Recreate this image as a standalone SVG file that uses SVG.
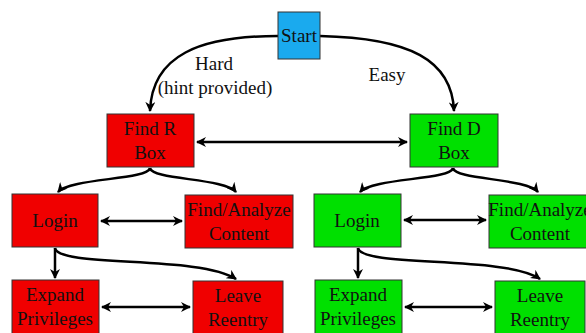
<svg xmlns="http://www.w3.org/2000/svg" width="586" height="333" viewBox="0 0 586 333">
<defs>
<marker id="ah" viewBox="0 0 10 10" refX="9" refY="5" markerWidth="4" markerHeight="4" orient="auto-start-reverse" markerUnits="strokeWidth">
<path d="M0,0 L10,5 L0,10 L3,5 z" fill="#000"/>
</marker>
<style>
.box{stroke:#333;stroke-width:1}
.r{fill:#f00000}
.g{fill:#00e000}
.b{fill:#1aaaee}
text{font-family:"Liberation Serif","Times New Roman",serif;font-size:19px;fill:#111;text-anchor:middle}
.c{fill:none;stroke:#000;stroke-width:2.5}
</style>
</defs>
<rect width="586" height="333" fill="#fff"/>
<g id="connectors">
<path class="c" d="M278,36 C200,36 152,55 150,111" marker-end="url(#ah)"/>
<path class="c" d="M320,36 C410,38 452,60 454,111" marker-end="url(#ah)"/>
<path class="c" d="M197,142 L407,142" marker-start="url(#ah)" marker-end="url(#ah)"/>
<path class="c" d="M150,168 C148,180 70,178 58,192" marker-end="url(#ah)"/>
<path class="c" d="M150,168 C152,180 225,178 236,192" marker-end="url(#ah)"/>
<path class="c" d="M101,221 L182,221" marker-start="url(#ah)" marker-end="url(#ah)"/>
<path class="c" d="M55,248 L55,278" marker-end="url(#ah)"/>
<path class="c" d="M55,248 C58,268 200,255 236,279" marker-end="url(#ah)"/>
<path class="c" d="M102,307 L190,307" marker-start="url(#ah)" marker-end="url(#ah)"/>
<path class="c" d="M453,168 C451,180 372,178 360,192" marker-end="url(#ah)"/>
<path class="c" d="M453,168 C455,180 527,178 538,192" marker-end="url(#ah)"/>
<path class="c" d="M404,220 L486,220" marker-start="url(#ah)" marker-end="url(#ah)"/>
<path class="c" d="M358,248 L358,278" marker-end="url(#ah)"/>
<path class="c" d="M358,248 C362,268 505,255 540,279" marker-end="url(#ah)"/>
<path class="c" d="M405,307 L492,307" marker-start="url(#ah)" marker-end="url(#ah)"/>
</g>
<g id="labels">
<text x="214" y="70">Hard</text>
<text x="215" y="94">(hint provided)</text>
<text x="387" y="81">Easy</text>
</g>
<g id="start"><rect class="box b" x="278" y="12" width="42" height="47"/><text x="299" y="42">Start</text></g>
<g id="findR"><rect class="box r" x="107" y="114" width="87" height="53"/><text x="150" y="135">Find R</text><text x="150" y="159">Box</text></g>
<g id="findD"><rect class="box g" x="410" y="114" width="88" height="53"/><text x="454" y="135">Find D</text><text x="454" y="159">Box</text></g>
<g id="loginR"><rect class="box r" x="12" y="194" width="86" height="53"/><text x="55" y="227">Login</text></g>
<g id="analyzeR"><rect class="box r" x="185" y="195" width="108" height="53"/><text x="239" y="216">Find/Analyze</text><text x="239" y="240">Content</text></g>
<g id="loginG"><rect class="box g" x="314" y="194" width="87" height="53"/><text x="357" y="227">Login</text></g>
<g id="analyzeG"><rect class="box g" x="489" y="195" width="108" height="53"/><text x="540" y="216">Find/Analyze</text><text x="540" y="240">Content</text></g>
<g id="expandR"><rect class="box r" x="12" y="280" width="87" height="60"/><text x="55" y="301">Expand</text><text x="55" y="325">Privileges</text></g>
<g id="leaveR"><rect class="box r" x="193" y="281" width="90" height="60"/><text x="238" y="302">Leave</text><text x="238" y="326">Reentry</text></g>
<g id="expandG"><rect class="box g" x="315" y="280" width="87" height="60"/><text x="358" y="301">Expand</text><text x="358" y="325">Privileges</text></g>
<g id="leaveG"><rect class="box g" x="495" y="281" width="90" height="60"/><text x="540" y="302">Leave</text><text x="540" y="326">Reentry</text></g>
</svg>
